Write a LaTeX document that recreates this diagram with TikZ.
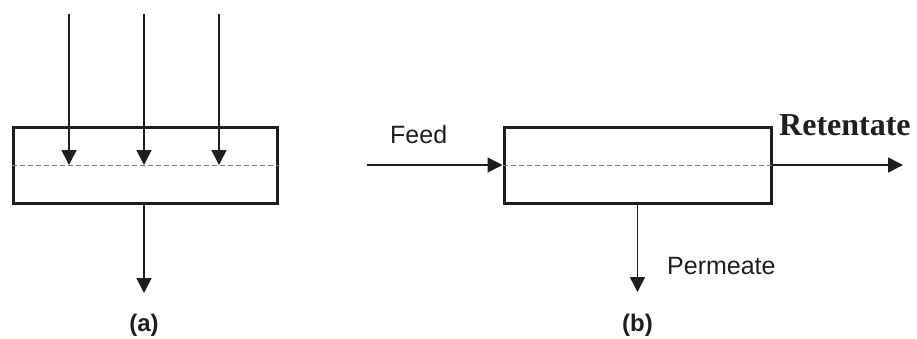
\documentclass[tikz,border=0pt]{standalone}
\usepackage{fontspec}
\setmainfont{Liberation Sans}
\newfontfamily\timesfont{Liberation Serif}
\usetikzlibrary{arrows.meta}
\definecolor{ink}{HTML}{1E1E1E}
\definecolor{dashgray}{HTML}{7A7A7A}
\tikzset{
  x=1pt, y=-1pt,
  unitbox/.style={draw=ink, line width=3pt, rectangle, minimum width=264pt, minimum height=76pt, inner sep=0pt},
  flow/.style={draw=ink, line width=1.6pt, -{Triangle[length=15pt,width=15pt]}},
  membrane/.style={draw=dashgray, line width=0.8pt, dash pattern=on 5pt off 3pt},
  lbl/.style={inner sep=0pt, text=ink, font=\fontsize{25}{30}\selectfont},
  caplbl/.style={inner sep=0pt, text=ink, font=\bfseries\fontsize{24}{28}\selectfont},
  retlbl/.style={inner sep=0pt, text=ink, font=\timesfont\bfseries\fontsize{32}{38}\selectfont}
}
\begin{document}
\begin{tikzpicture}
\useasboundingbox (0,0) rectangle (917,338);
% (a) dead-end filtration
\node[unitbox] (boxa) at (145,165) {};
\draw[membrane] (boxa.west) -- (boxa.east);
\coordinate (a1s) at (69,14);  \coordinate (a1e) at (69,165);
\coordinate (a2s) at (144,14); \coordinate (a2e) at (144,165);
\coordinate (a3s) at (219,14); \coordinate (a3e) at (219,165);
\draw[flow] (a1s) -- (a1e);
\draw[flow] (a2s) -- (a2e);
\draw[flow] (a3s) -- (a3e);
\coordinate (aout) at (144,293);
\draw[flow] (boxa.south -| aout) -- (aout);
\node[caplbl] (capa) at (144,325) {(a)};
% (b) cross-flow filtration
\node[unitbox, minimum width=267pt] (boxb) at (637.5,165) {};
\draw[membrane] (boxb.west) -- (boxb.east);
\coordinate (feedstart) at (367,165);
\draw[flow] (feedstart) -- (boxb.west);
\coordinate (retend) at (903,165);
\draw[flow] (boxb.east) -- (retend);
\coordinate (permend) at (637.5,292);
\draw[flow] (boxb.south) -- (permend);
\node[lbl, anchor=base west] (feed) at (390,143) {Feed};
\node[retlbl, anchor=base west] (ret) at (779,135) {Retentate};
\node[lbl, anchor=base west] (perm) at (667,274) {Permeate};
\node[caplbl] (capb) at (637.5,325) {(b)};
\end{tikzpicture}
\end{document}
